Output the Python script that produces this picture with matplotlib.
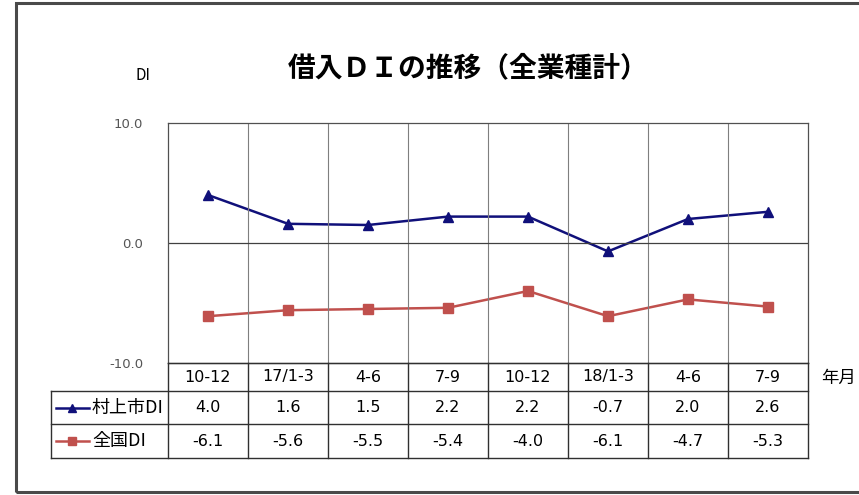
import matplotlib.pyplot as plt
from matplotlib.patches import Rectangle

plt.rcParams['font.family'] = ['Noto Sans CJK JP', 'DejaVu Sans']
plt.rcParams['axes.unicode_minus'] = False

# data
periods = ['10-12', '17/1-3', '4-6', '7-9', '10-12', '18/1-3', '4-6', '7-9']
murakami = [4.0, 1.6, 1.5, 2.2, 2.2, -0.7, 2.0, 2.6]
zenkoku = [-6.1, -5.6, -5.5, -5.4, -4.0, -6.1, -4.7, -5.3]
series_names = ['村上市DI', '全国DI']
y_ticks = [-10.0, 0.0, 10.0]

W, H = 859, 495
fig = plt.figure(figsize=(W / 100, H / 100), dpi=100)

# outer frame
fig.add_artist(Rectangle((16 / W, 3 / H), 900 / W, 489 / H, transform=fig.transFigure,
                         fill=False, edgecolor='#4a4a4a', linewidth=2.2))

# plot area (pixels: x 168..808, y 123..363)
ax = fig.add_axes([168 / W, (H - 363) / H, 640 / W, 240 / H])
x = list(range(len(periods)))
blue = '#10107a'
red = '#c0504d'
ax.plot(x, murakami, color=blue, linewidth=1.8, marker='^', markersize=7)
ax.plot(x, zenkoku, color=red, linewidth=1.8, marker='s', markersize=6.5)
ax.set_xlim(-0.5, len(periods) - 0.5)
ax.set_ylim(-10, 10)
ax.set_yticks(y_ticks)
ax.set_yticklabels([f'{v:.1f}' for v in y_ticks], color='#555555', fontsize=9.5,
                   family=['DejaVu Sans'])
ax.set_xticks([])
ax.tick_params(axis='y', length=0, pad=18)
for b in range(1, len(periods)):
    ax.axvline(b - 0.5, color='#7f7f7f', linewidth=0.8)
ax.axhline(0, color='#404040', linewidth=0.9)
for s in ax.spines.values():
    s.set_color('#505050')
    s.set_linewidth(0.9)

# data table below (pixels: x 51..808, y 363..458)
tax = fig.add_axes([51 / W, (H - 458) / H, (808 - 51) / W, 95 / H])
tax.set_xlim(-0.5 - 117 / 80, len(periods) - 0.5)
tax.set_ylim(95, 0)
tax.axis('off')


def px(p):
    return -0.5 + (p - 168) / 80


rows = [0, 28, 61, 95]
left = px(51)
right = len(periods) - 0.5
lc = '#303030'
lw = 1.0
# horizontal lines
tax.plot([-0.5, right], [rows[0], rows[0]], color=lc, lw=lw, clip_on=False)
for r in rows[1:]:
    tax.plot([left, right], [r, r], color=lc, lw=lw, clip_on=False)
# vertical lines
tax.plot([left, left], [rows[1], rows[3]], color=lc, lw=lw, clip_on=False)
for b in range(len(periods) + 1):
    tax.plot([b - 0.5, b - 0.5], [rows[0], rows[3]], color=lc, lw=lw, clip_on=False)

for i, p in enumerate(periods):
    tax.text(i, 14, p, ha='center', va='center', fontsize=11.5, family=['DejaVu Sans'])
    tax.text(i, 45, f'{murakami[i]:.1f}', ha='center', va='center', fontsize=11.5,
             family=['DejaVu Sans'])
    tax.text(i, 78, f'{zenkoku[i]:.1f}', ha='center', va='center', fontsize=11.5,
             family=['DejaVu Sans'])

# legend keys in table
for yy, name, col, mk, ms in [(45, series_names[0], blue, '^', 6),
                              (78, series_names[1], red, 's', 6)]:
    tax.plot([px(56), px(89)], [yy, yy], color=col, lw=1.8, clip_on=False)
    tax.plot([px(72)], [yy], color=col, marker=mk, markersize=ms, clip_on=False)
    tax.text(px(92), yy, name, ha='left', va='center', fontsize=13)

# texts
fig.text(468 / W, 1 - 68 / H, '借入ＤＩの推移（全業種計）', ha='center', va='center',
         fontsize=20, fontweight='bold')
fig.text(143 / W, 1 - 75 / H, 'DI', ha='center', va='center', fontsize=11)
fig.text(838 / W, 1 - 378 / H, '年月', ha='center', va='center', fontsize=12.5)

fig.savefig('out.png', dpi=100, facecolor='white')
